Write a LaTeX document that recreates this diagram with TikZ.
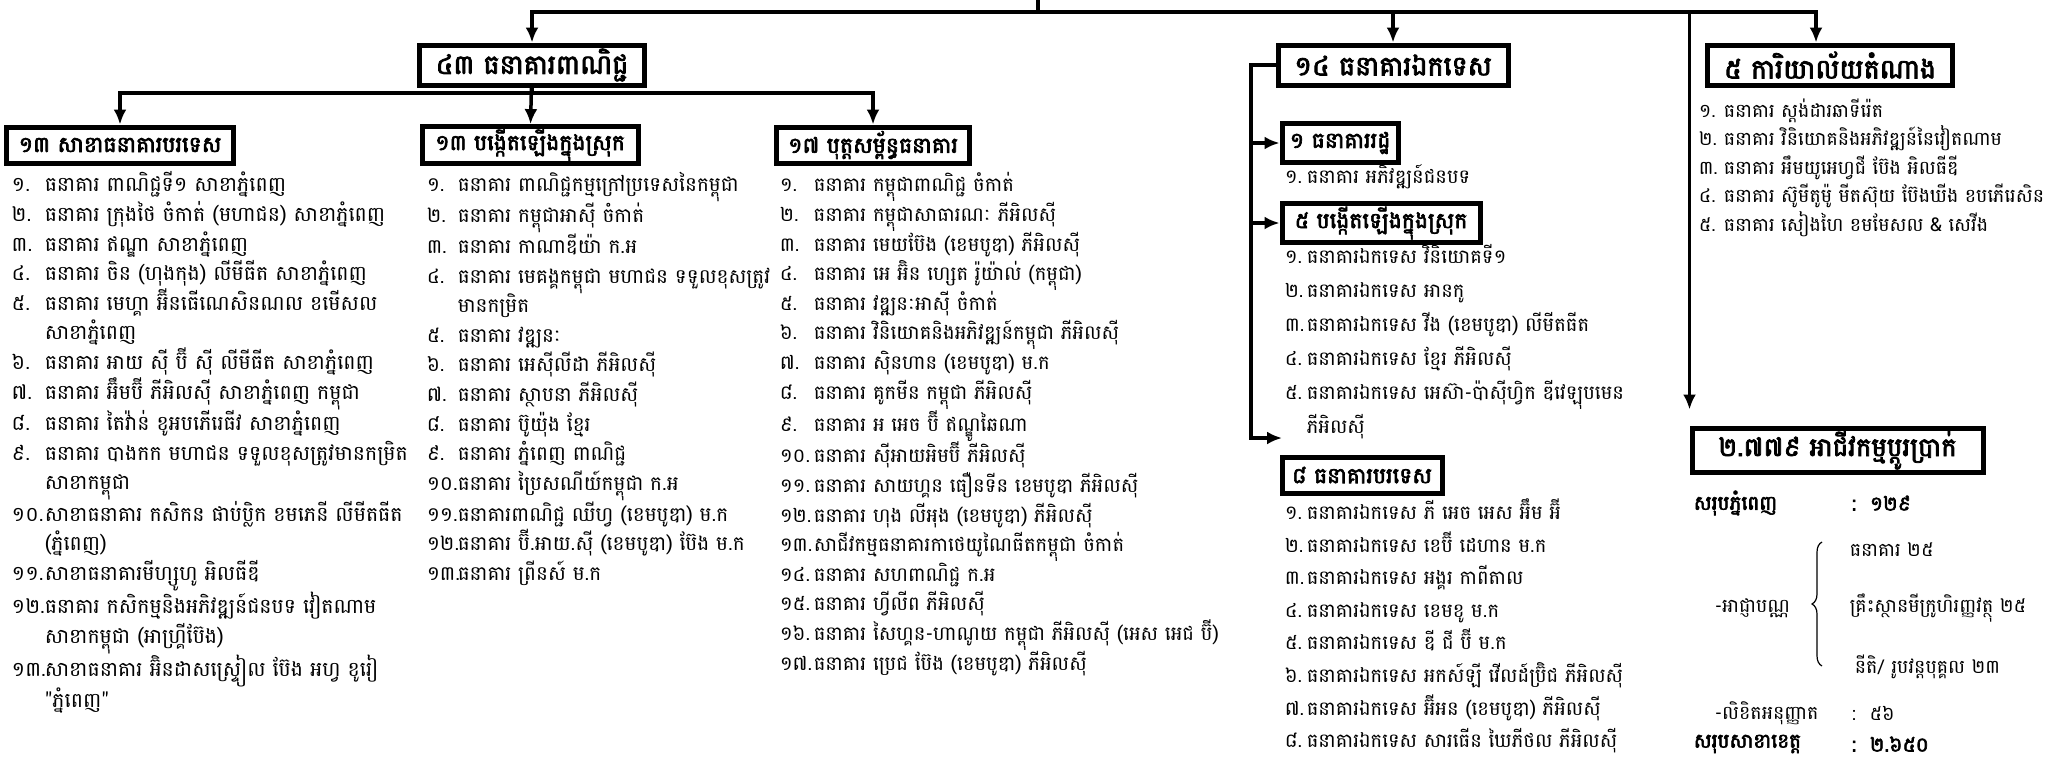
\documentclass[tikz,border=0pt]{standalone}
\usepackage{fontspec}
\newfontfamily\kh[Script=Khmer]{Battambang}
\newfontfamily\khhead[Script=Khmer,FakeBold=3]{Battambang}
\usetikzlibrary{arrows.meta,decorations.pathreplacing}
\newcommand\nm[2][33pt]{\makebox[#1][l]{#2}}

\tikzset{
  hd/.style={draw,line width=5pt,inner sep=2pt,minimum height=36pt,font=\khhead\fontsize{22}{26}\selectfont},
  hdtop/.style={hd,minimum height=40pt,font=\khhead\fontsize{27}{30}\selectfont},
  lst/.style={anchor=north west,align=left,inner sep=0pt,font=\kh\fontsize{20.5}{29.6}\selectfont},
  txt/.style={anchor=west,inner sep=0pt,font=\kh\fontsize{19}{24}\selectfont},
  txtb/.style={txt,font=\khhead\fontsize{20}{24}\selectfont},
}

\begin{document}
\begin{tikzpicture}[x=1pt,y=-1pt,>={Latex[length=15pt,width=13pt]},line width=3.5pt]
  \useasboundingbox (0,0) rectangle (2049,761);

  % boxes
  \node[hdtop,minimum width=225pt] (b43) at (532,65) {៤៣ ធនាគារពាណិជ្ជ};
  \node[hdtop,minimum width=230pt] (b14) at (1393,65) {១៤ ធនាគារឯកទេស};
  \node[hdtop,minimum width=245pt] (b5) at (1830,65) {៥ ការិយាល័យតំណាង};
  \node[hd,minimum width=227pt] (sA) at (120,145) {១៣ សាខាធនាគារបរទេស};
  \node[hd,minimum width=216pt] (sB) at (530,145) {១៣ បង្កើតឡើងក្នុងស្រុក};
  \node[hd,minimum width=193pt] (sC) at (873,145) {១៧ បុត្តសម្ព័ន្ធធនាគារ};
  \node[hd,minimum width=116pt,minimum height=39pt] (b1) at (1340,143) {១ ធនាគាររដ្ឋ};
  \node[hd,minimum width=198pt,minimum height=39pt] (b5s) at (1381,223) {៥ បង្កើតឡើងក្នុងស្រុក};
  \node[hd,minimum width=160pt] (b8) at (1362,475) {៨ ធនាគារបរទេស};
  \node[hd,minimum width=291pt,minimum height=44pt,font=\khhead\fontsize{26}{30}\selectfont] (bFx) at (1837.5,450) {២.៧៧៩ អាជីវកម្មប្ដូរប្រាក់};

  % lists
  \node[lst] (lA) at (10,170) {\nm{១.}ធនាគារ ពាណិជ្ជទី១ សាខាភ្នំពេញ\\
    \nm{២.}ធនាគារ ក្រុងថៃ ចំកាត់ (មហាជន) សាខាភ្នំពេញ\\
    \nm{៣.}ធនាគារ ឥណ្ឌា សាខាភ្នំពេញ\\
    \nm{៤.}ធនាគារ ចិន (ហុងកុង) លីមីធីត សាខាភ្នំពេញ\\
    \nm{៥.}ធនាគារ មេហ្គា អ៊ីនធើណេសិនណល ខមើសល\\
    \nm{}សាខាភ្នំពេញ\\
    \nm{៦.}ធនាគារ អាយ ស៊ី ប៊ី ស៊ី លីមីធីត សាខាភ្នំពេញ\\
    \nm{៧.}ធនាគារ អ៊ឹមប៊ី ភីអិលស៊ី សាខាភ្នំពេញ កម្ពុជា\\
    \nm{៨.}ធនាគារ តៃវ៉ាន់ ខូអបភើរេធីវ សាខាភ្នំពេញ\\
    \nm{៩.}ធនាគារ បាងកក មហាជន ទទួលខុសត្រូវមានកម្រិត\\
    \nm{}សាខាកម្ពុជា\\
    \nm{១០.}សាខាធនាគារ កសិកន ផាប់ប្លិក ខមភេនី លីមីតធីត\\
    \nm{}(ភ្នំពេញ)\\
    \nm{១១.}សាខាធនាគារមីហ្សូហូ អិលធីឌី\\
    \nm{១២.}ធនាគារ កសិកម្មនិងអភិវឌ្ឍន៍ជនបទ វៀតណាម\\
    \nm{}សាខាកម្ពុជា (អាហ្គ្រីប៊ែង)\\
    \nm{១៣.}សាខាធនាគារ អ៊ិនដាសស្រ្ទៀល ប៊ែង អហ្វ ខូរៀ\\
    \nm{}"ភ្នំពេញ"};
  \node[lst,font=\kh\fontsize{20}{29.6}\selectfont] (lB) at (425,171) {\nm[31pt]{១.}ធនាគារ ពាណិជ្ជកម្មក្រៅប្រទេសនៃកម្ពុជា\\
    \nm[31pt]{២.}ធនាគារ កម្ពុជាអាស៊ី ចំកាត់\\
    \nm[31pt]{៣.}ធនាគារ កាណាឌីយ៉ា ក.អ\\
    \nm[31pt]{៤.}ធនាគារ មេគង្គកម្ពុជា មហាជន ទទួលខុសត្រូវ\\
    \nm[31pt]{}មានកម្រិត\\
    \nm[31pt]{៥.}ធនាគារ វឌ្ឍនៈ\\
    \nm[31pt]{៦.}ធនាគារ អេស៊ីលីដា ភីអិលស៊ី\\
    \nm[31pt]{៧.}ធនាគារ ស្ថាបនា ភីអិលស៊ី\\
    \nm[31pt]{៨.}ធនាគារ ប៊ូយ៉ុង ខ្មែរ\\
    \nm[31pt]{៩.}ធនាគារ ភ្នំពេញ ពាណិជ្ជ\\
    \nm[31pt]{១០.}ធនាគារ ប្រៃសណីយ៍កម្ពុជា ក.អ\\
    \nm[31pt]{១១.}ធនាគារពាណិជ្ជ ឈីហ្វ (ខេមបូឌា) ម.ក\\
    \nm[31pt]{១២.}ធនាគារ ប៊ី.អាយ.ស៊ី (ខេមបូឌា) ប៊ែង ម.ក\\
    \nm[31pt]{១៣.}ធនាគារ ព្រីនស៍ ម.ក};
  \node[lst,font=\kh\fontsize{19.6}{29.6}\selectfont] (lC) at (778,171) {\nm[34pt]{១.}ធនាគារ កម្ពុជាពាណិជ្ជ ចំកាត់\\
    \nm[34pt]{២.}ធនាគារ កម្ពុជាសាធារណៈ ភីអិលស៊ី\\
    \nm[34pt]{៣.}ធនាគារ មេយប៊ែង (ខេមបូឌា) ភីអិលស៊ី\\
    \nm[34pt]{៤.}ធនាគារ អេ អ៊ិន ហ្សេត រ៉ូយ៉ាល់ (កម្ពុជា)\\
    \nm[34pt]{៥.}ធនាគារ វឌ្ឍនៈអាស៊ី ចំកាត់\\
    \nm[34pt]{៦.}ធនាគារ វិនិយោគនិងអភិវឌ្ឍន៍កម្ពុជា ភីអិលស៊ី\\
    \nm[34pt]{៧.}ធនាគារ ស៊ិនហាន (ខេមបូឌា) ម.ក\\
    \nm[34pt]{៨.}ធនាគារ គូកមីន កម្ពុជា ភីអិលស៊ី\\
    \nm[34pt]{៩.}ធនាគារ អ អេច ប៊ី ឥណ្ឌូឆៃណា\\
    \nm[34pt]{១០.}ធនាគារ ស៊ីអាយអិមប៊ី ភីអិលស៊ី\\
    \nm[34pt]{១១.}ធនាគារ សាយហ្គន ធឿនទីន ខេមបូឌា ភីអិលស៊ី\\
    \nm[34pt]{១២.}ធនាគារ ហុង លីអុង (ខេមបូឌា) ភីអិលស៊ី\\
    \nm[34pt]{១៣.}សាជីវកម្មធនាគារកាថេយូណៃធីតកម្ពុជា ចំកាត់\\
    \nm[34pt]{១៤.}ធនាគារ សហពាណិជ្ជ ក.អ\\
    \nm[34pt]{១៥.}ធនាគារ ហ្វីលីព ភីអិលស៊ី\\
    \nm[34pt]{១៦.}ធនាគារ សៃហ្គន-ហាណូយ កម្ពុជា ភីអិលស៊ី (អេស អេជ ប៊ី)\\
    \nm[34pt]{១៧.}ធនាគារ ប្រេជ ប៊ែង (ខេមបូឌា) ភីអិលស៊ី};
  \node[lst,font=\kh\fontsize{19.5}{34}\selectfont] (l1) at (1283,163) {\nm[22pt]{១.}ធនាគារ អភិវឌ្ឍន៍ជនបទ};
  \node[lst,font=\kh\fontsize{19.5}{34}\selectfont] (l5) at (1283,243) {\nm[22pt]{១.}ធនាគារឯកទេស វិនិយោគទី១\\
    \nm[22pt]{២.}ធនាគារឯកទេស អានកូ\\
    \nm[22pt]{៣.}ធនាគារឯកទេស វីង (ខេមបូឌា) លីមីតធីត\\
    \nm[22pt]{៤.}ធនាគារឯកទេស ខ្មែរ ភីអិលស៊ី\\
    \nm[22pt]{៥.}ធនាគារឯកទេស អេស៊ា-ប៉ាស៊ីហ្វិក ឌីវេឡុបមេន\\
    \nm[22pt]{}ភីអិលស៊ី};
  \node[lst,font=\kh\fontsize{19.5}{32.6}\selectfont] (l8) at (1283,497) {\nm[22pt]{១.}ធនាគារឯកទេស ភី អេច អេស អ៊ឹម អ៊ី\\
    \nm[22pt]{២.}ធនាគារឯកទេស ខេប៊ី ដេហាន ម.ក\\
    \nm[22pt]{៣.}ធនាគារឯកទេស អង្គរ កាពីតាល\\
    \nm[22pt]{៤.}ធនាគារឯកទេស ខេមខូ ម.ក\\
    \nm[22pt]{៥.}ធនាគារឯកទេស ឌី ជី ប៊ី ម.ក\\
    \nm[22pt]{៦.}ធនាគារឯកទេស អកស៍ឡី វើលដ៍ប្រ៊ិជ ភីអិលស៊ី\\
    \nm[22pt]{៧.}ធនាគារឯកទេស អ៊ីអន (ខេមបូឌា) ភីអិលស៊ី\\
    \nm[22pt]{៨.}ធនាគារឯកទេស សារធើន ឃៃភីថល ភីអិលស៊ី};
  \node[lst,font=\kh\fontsize{19}{28.5}\selectfont] (lR) at (1697,97) {\nm[25pt]{១.}ធនាគារ ស្តង់ដារឆាទីរ៉េត\\
    \nm[25pt]{២.}ធនាគារ វិនិយោគនិងអភិវឌ្ឍន៍នៃវៀតណាម\\
    \nm[25pt]{៣.}ធនាគារ អឹមយូអេហ្វជី ប៊ែង អិលធីឌី\\
    \nm[25pt]{៤.}ធនាគារ ស៊ូមីតូម៉ូ មីតស៊ុយ ប៊ែងឃីង ខបភើរេសិន\\
    \nm[25pt]{៥.}ធនាគារ សៀងហៃ ខមមែសល \& សេវីង};

  % summary
  \node[txtb] (tPP) at (1692,503) {សរុបភ្នំពេញ};
  \node[txtb] (vPP) at (1850,503) {:\hspace{14pt}១២៩};
  \node[txt] (tBk) at (1848,550) {ធនាគារ ២៥};
  \node[txt] (tLic) at (1713,608) {-អាជ្ញាបណ្ណ};
  \node[txt] (tMf) at (1848,608) {គ្រឹះស្ថានមីក្រូហិរញ្ញវត្ថុ ២៥};
  \node[txt] (tPn) at (1853,667) {នីតិ/ រូបវន្តបុគ្គល ២៣};
  \node[txt] (tPer) at (1713,713) {-លិខិតអនុញ្ញាត};
  \node[txt] (vPer) at (1850,713) {:\hspace{14pt}៥៦};
  \node[txtb] (tPv) at (1692,744) {សរុបសាខាខេត្ត};
  \node[txtb] (vPv) at (1850,744) {:\hspace{14pt}២.៦៥០};
  \draw[line width=1.2pt,decorate,decoration={brace,amplitude=10pt}] (1822,666) -- (1822,542);

  % connectors
  \coordinate (up) at (1038,0);
  \coordinate (rail) at (1038,12);
  \coordinate (r5) at (1816,12);
  \coordinate (rA) at (0,93);
  \coordinate (sp) at (1251,0);
  \coordinate (endF) at (1282,438);
  \draw (up) -- (rail);
  \draw[->] (rail) -| (b43);
  \draw[->] (rail) -| (b14);
  \draw[->] (rail) -| (r5 |- b5.north);
  \draw[->,shorten >=16pt] (rail) -| (bFx.north west);
  \draw (b43) -- (b43.south |- rA);
  \draw[->] (b43.south |- rA) -| (sA);
  \draw[->] (b43.south |- rA) -| (sC);
  \draw[->] (b43) -- (sB);
  \draw[->] (b14.west) -- (b14.west -| sp) |- (endF);
  \draw[->] (sp |- b1.west) -- (b1.west);
  \draw[->] (sp |- b5s.west) -- (b5s.west);
\end{tikzpicture}
\end{document}
